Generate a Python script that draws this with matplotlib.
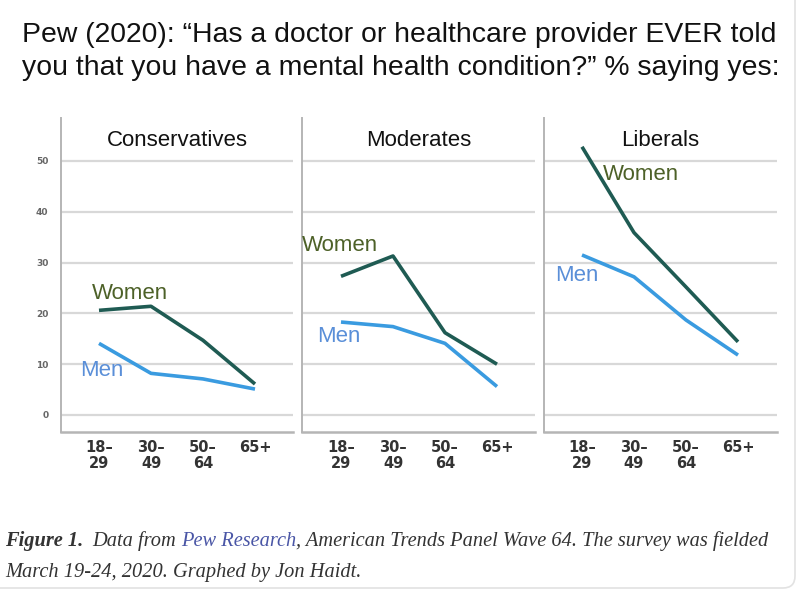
import matplotlib
matplotlib.use("Agg")
import matplotlib.pyplot as plt
from matplotlib.patches import FancyBboxPatch

age_groups = ["18–\n29", "30–\n49", "50–\n64", "65+"]
panels = ["Conservatives", "Moderates", "Liberals"]
women = {
    "Conservatives": [20.6, 21.4, 14.7, 6.1],
    "Moderates": [27.3, 31.3, 16.2, 10.0],
    "Liberals": [52.8, 35.9, 25.2, 14.4],
}
men = {
    "Conservatives": [14.1, 8.2, 7.1, 5.1],
    "Moderates": [18.3, 17.4, 14.1, 5.6],
    "Liberals": [31.5, 27.2, 18.7, 11.8],
}
y_ticks = [0, 10, 20, 30, 40, 50]

W, H = 800, 596
fig = plt.figure(figsize=(W / 100, H / 100), dpi=100)
fig.patch.set_facecolor("white")

WOMEN_LINE = "#1f5b53"
MEN_LINE = "#3a9be0"
WOMEN_TXT = "#4d6128"
MEN_TXT = "#5a8fd8"
GRID = "#d8d8d8"
SPINE = "#b5b5b5"

# panel geometry in pixels: (left, right)
panel_px = [(61, 293), (302, 535), (544, 777)]
first_pt = [99, 341, 582]
spacing = 52.0
y_top_px, y_bot_px = 118, 432
y0_px, y50_px = 415, 161
ppu = (y0_px - y50_px) / 50.0

label_pos = {
    "Conservatives": ((-0.13, 24.0), (-0.37, 8.85)),
    "Moderates": ((-0.75, 33.4), (-0.46, 15.5)),
    "Liberals": ((0.40, 47.4), (-0.52, 27.5)),
}

for i, name in enumerate(panels):
    l, r = panel_px[i]
    ax = fig.add_axes([l / W, 1 - y_bot_px / H, (r - l) / W, (y_bot_px - y_top_px) / H])
    xmin = (l - first_pt[i]) / spacing
    xmax = (r - first_pt[i]) / spacing
    ymin = (y0_px - y_bot_px) / ppu
    ymax = (y0_px - y_top_px) / ppu
    ax.set_xlim(xmin, xmax)
    ax.set_ylim(ymin, ymax)
    xs = list(range(len(age_groups)))
    for yt in y_ticks:
        ax.axhline(yt, color=GRID, lw=1.6, zorder=1)
    ax.plot(xs, women[name], color=WOMEN_LINE, lw=2.6, zorder=3, solid_capstyle="butt")
    ax.plot(xs, men[name], color=MEN_LINE, lw=2.6, zorder=3, solid_capstyle="butt")
    for s in ["top", "right"]:
        ax.spines[s].set_visible(False)
    ax.spines["left"].set_color(SPINE)
    ax.spines["left"].set_linewidth(1.4)
    ax.spines["bottom"].set_color(SPINE)
    ax.spines["bottom"].set_linewidth(1.8)
    ax.set_xticks(xs)
    ax.set_xticklabels(age_groups, fontsize=10.5, fontweight="bold", color="#333333",
                       family="DejaVu Sans", linespacing=1.05)
    ax.tick_params(axis="x", length=0, pad=6)
    if i == 0:
        ax.set_yticks(y_ticks)
        ax.set_yticklabels([str(t) for t in y_ticks], fontsize=6.5, fontweight="bold",
                           color="#666666", family="DejaVu Sans")
        ax.tick_params(axis="y", length=0, pad=9)
    else:
        ax.set_yticks([])
    ax.text(0.5, 1 - (140 - y_top_px) / (y_bot_px - y_top_px), name, transform=ax.transAxes,
            ha="center", va="center", fontsize=16, family="Liberation Sans", color="#111111")
    (wx, wy), (mx, my) = label_pos[name]
    ax.text(wx, wy, "Women", ha="left", va="center", fontsize=16, family="Liberation Sans",
            color=WOMEN_TXT, zorder=4)
    ax.text(mx, my, "Men", ha="left", va="center", fontsize=16, family="Liberation Sans",
            color=MEN_TXT, zorder=4)
    ax.set_facecolor("none")

# Title
fig.text(22 / W, 1 - 35 / H, "Pew (2020): \u201cHas a doctor or healthcare provider EVER told",
         ha="left", va="center", fontsize=20.4, family="Liberation Sans", color="#111111")
fig.text(22 / W, 1 - 68 / H, "you that you have a mental health condition?\u201d % saying yes:",
         ha="left", va="center", fontsize=20.4, family="Liberation Sans", color="#111111")

# Caption
CAP_FS = 14.7
cap_y1 = 1 - 541 / H
t1 = fig.text(5 / W, cap_y1, "Figure 1.", ha="left", va="center", fontsize=CAP_FS,
              family="Liberation Serif", style="italic", fontweight="bold", color="#333333")
fig.canvas.draw()
rend = fig.canvas.get_renderer()
bb = t1.get_window_extent(rend)
x = bb.x1 + 9
parts = [("Data from ", "#333333"), ("Pew Research", "#4a56a6"),
         (", American Trends Panel Wave 64. The survey was fielded", "#333333")]
for txt, col in parts:
    t = fig.text(x / W, cap_y1, txt, ha="left", va="center", fontsize=CAP_FS,
                 family="Liberation Serif", style="italic", color=col)
    bb = t.get_window_extent(rend)
    x = bb.x1
fig.text(5 / W, 1 - 573 / H, "March 19-24, 2020. Graphed by Jon Haidt.", ha="left", va="center",
         fontsize=CAP_FS, family="Liberation Serif", style="italic", color="#333333")

box = FancyBboxPatch((-20, H - 588), 815, 700,
                     boxstyle="round,pad=0,rounding_size=12", transform=None,
                     facecolor="none", edgecolor="#e2e2e2", lw=1.2)
fig.patches.append(box)

fig.savefig("out.png", dpi=100)
